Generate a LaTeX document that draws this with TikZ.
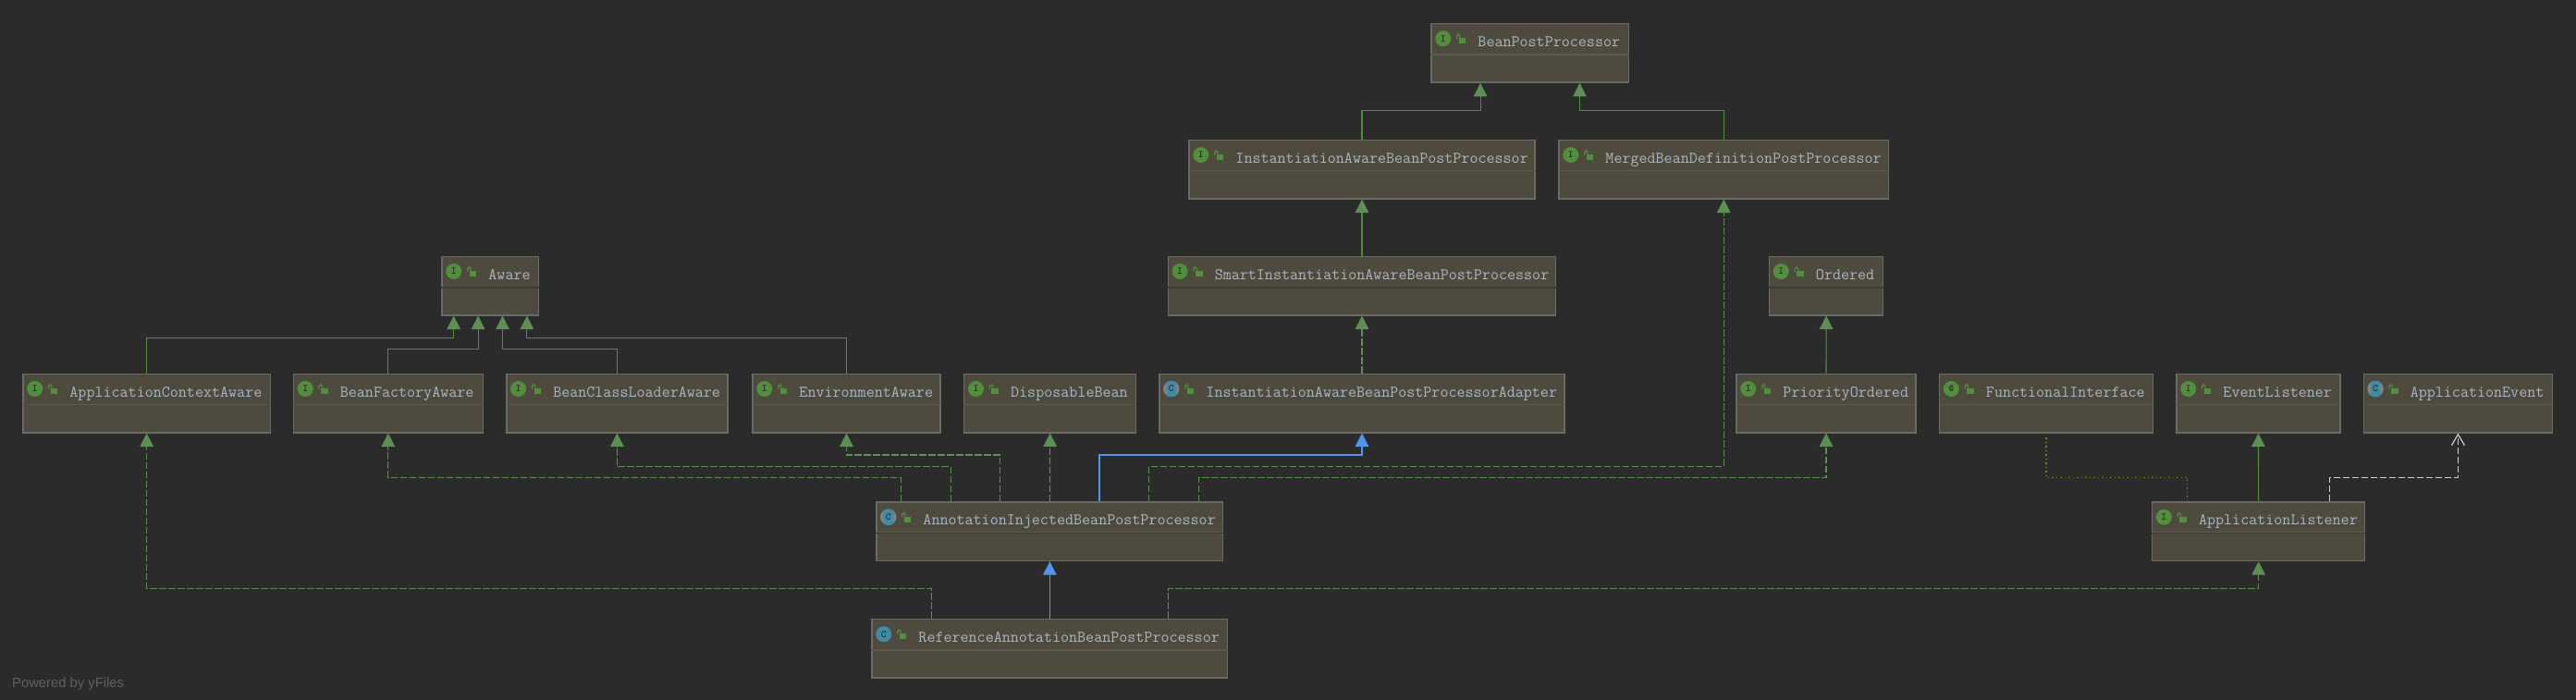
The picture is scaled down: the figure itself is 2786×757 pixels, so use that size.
\documentclass[tikz,border=0pt]{standalone}
\usepackage{fontspec}
\setsansfont{Liberation Sans}
\usetikzlibrary{arrows.meta}
\definecolor{bgcol}{HTML}{2B2B2B}
\definecolor{boxcol}{HTML}{4E4A3E}
\definecolor{bordercol}{HTML}{6B6B66}
\definecolor{dividercol}{HTML}{5A584F}
\definecolor{darkdivcol}{HTML}{3C3B36}
\definecolor{namecol}{HTML}{A9B7C6}
\definecolor{greencol}{HTML}{528F3C}
\definecolor{tipcol}{HTML}{5B9150}
\definecolor{bluecol}{HTML}{4E96EE}
\definecolor{tealcol}{HTML}{3E8CA6}
\definecolor{ringcol}{HTML}{85857F}
\definecolor{dotcol}{HTML}{7A7A1E}
\definecolor{whitecol}{HTML}{CFCFCF}
\definecolor{yfilescol}{HTML}{5F5F5F}
% name, left, top, right
\newcommand{\umlbox}[4]{
\node[classbox,minimum width={#4-#2}] (#1) at ({(#2+#4)/2},{#3+32}) {};
\draw[dividerline] ([yshift=-34]#1.north west) -- ([yshift=-34]#1.north east);
\fill[greencol] ([shift={(30.5,16.3)}]#1.north west) rectangle ([shift={(38,22.3)}]#1.north west);
\draw[greencol,line width=1.2pt] ([shift={(28.4,17)}]#1.north west) -- ([shift={(28.4,14)}]#1.north west) arc (180:0:1.7pt) -- ++(0,2);
}
\newcommand{\umlname}[2]{
\node[classname] (#1name) at ([shift={(51,25.5)}]#1.north west) {#2};
}
\newcommand{\darkdivider}[1]{
\draw[dividerline,draw=darkdivcol] ([yshift=-34.5]#1.north west) -- ([yshift=-34.5]#1.north east);
}
\newcommand{\ifaceicon}[2]{
\node[iconmark,fill=greencol] (#1icon) at ([shift={(13.5,17)}]#1.north west) {#2};
}
\newcommand{\classicon}[1]{
\node[iconmark,fill=tealcol] (#1icon) at ([shift={(13.5,17)}]#1.north west) {C};
}
\newcommand{\abstracticon}[1]{
\fill[ringcol] ([shift={(13.5,17)}]#1.north west) circle (8.7pt);
\node[iconmark,minimum size=0pt,rounded corners=3pt,minimum width=11pt,minimum height=17pt,rectangle,fill=tealcol] (#1icon) at ([shift={(13.5,17)}]#1.north west) {C};
}
\begin{document}
\begin{tikzpicture}[x=1pt,y=-1pt]
\tikzstyle{classbox} = [rectangle,draw=bordercol,fill=boxcol,line width=1.5pt,minimum height=63.5,inner sep=0pt]
\tikzstyle{classname} = [anchor=base west,inner sep=0pt,text=namecol,font=\fontsize{17.55}{20}\selectfont\ttfamily\addfontfeature{FakeBold=0.25}]
\tikzstyle{iconmark} = [circle,inner sep=0pt,minimum size=17,text=bgcol,font=\fontsize{11}{11}\selectfont\ttfamily\bfseries]
\tikzstyle{dividerline} = [draw=dividercol,line width=1.5pt]
\tikzstyle{implsolid} = [draw=greencol,line width=1.1pt,-{Triangle[length=14.5pt,width=14.5pt,color=tipcol]}]
\tikzstyle{impldash} = [implsolid,draw=tipcol,line width=1.2pt,dash pattern=on 7.5pt off 2.5pt]
\tikzstyle{extblue} = [draw=bluecol,line width=1.25pt,-{Triangle[length=14.5pt,width=14.5pt]}]
\tikzstyle{depdash} = [draw=whitecol,line width=1.2pt,dash pattern=on 7.5pt off 2.5pt,-{Straight Barb[length=12pt,width=14pt]}]
\tikzstyle{annodot} = [draw=dotcol,line width=1.1pt,dash pattern=on 1.5pt off 3pt]
\fill[bgcol] (0,0) rectangle (2786,757);
\useasboundingbox (0,0) rectangle (2786,757);

\umlbox{bpp}{1548}{25.3}{1761.5}
\umlbox{iabpp}{1286}{151}{1660}
\umlbox{mbdpp}{1686}{151}{2042.6}
\umlbox{siabpp}{1263.3}{277}{1682.7}
\umlbox{aware}{478}{277}{582.6}
\umlbox{ordered}{1913.5}{277}{2036.7}
\umlbox{acaware}{25}{404}{292.4}
\umlbox{bfaware}{317.4}{404}{522.3}
\umlbox{bclaware}{547.8}{404}{787}
\umlbox{envaware}{814}{404}{1017}
\umlbox{dispbean}{1042.7}{404}{1228.7}
\umlbox{iabppa}{1254}{404}{1692}
\umlbox{prio}{1878}{404}{2072}
\umlbox{funcif}{2097.5}{404}{2328.5}
\umlbox{evlistener}{2354}{404}{2530.8}
\umlbox{appevent}{2556.3}{404}{2760.5}
\umlbox{aibpp}{948}{542.7}{1322.7}
\umlbox{applistener}{2327.6}{542.7}{2557.7}
\umlbox{rabpp}{943}{669.3}{1327.7}

\darkdivider{siabpp}
\darkdivider{aware}
\darkdivider{ordered}
\darkdivider{aibpp}
\darkdivider{applistener}

\ifaceicon{bpp}{I}
\ifaceicon{iabpp}{I}
\ifaceicon{mbdpp}{I}
\ifaceicon{siabpp}{I}
\ifaceicon{aware}{I}
\ifaceicon{ordered}{I}
\ifaceicon{acaware}{I}
\ifaceicon{bfaware}{I}
\ifaceicon{bclaware}{I}
\ifaceicon{envaware}{I}
\ifaceicon{dispbean}{I}
\ifaceicon{prio}{I}
\ifaceicon{funcif}{@}
\ifaceicon{evlistener}{I}
\ifaceicon{applistener}{I}
\abstracticon{iabppa}
\abstracticon{appevent}
\abstracticon{aibpp}
\classicon{rabpp}

\umlname{bpp}{BeanPostProcessor}
\umlname{iabpp}{InstantiationAwareBeanPostProcessor}
\umlname{mbdpp}{MergedBeanDefinitionPostProcessor}
\umlname{siabpp}{SmartInstantiationAwareBeanPostProcessor}
\umlname{aware}{Aware}
\umlname{ordered}{Ordered}
\umlname{acaware}{ApplicationContextAware}
\umlname{bfaware}{BeanFactoryAware}
\umlname{bclaware}{BeanClassLoaderAware}
\umlname{envaware}{EnvironmentAware}
\umlname{dispbean}{DisposableBean}
\umlname{iabppa}{InstantiationAwareBeanPostProcessorAdapter}
\umlname{prio}{PriorityOrdered}
\umlname{funcif}{FunctionalInterface}
\umlname{evlistener}{EventListener}
\umlname{appevent}{ApplicationEvent}
\umlname{aibpp}{AnnotationInjectedBeanPostProcessor}
\umlname{applistener}{ApplicationListener}
\umlname{rabpp}{ReferenceAnnotationBeanPostProcessor}

\draw[implsolid] (iabpp.north) -- ++(0,-31) -| ([xshift=-53.7]bpp.south);
\draw[implsolid] (mbdpp.north) -- ++(0,-31) -| ([xshift=53.7]bpp.south);
\draw[implsolid] (siabpp.north) -- (iabpp.south);
\draw[impldash] (iabppa.north) -- (siabpp.south);
\draw[implsolid] (acaware.north) -- ++(0,-38) -| ([xshift=-39.6]aware.south);
\draw[implsolid] (bfaware.north) -- ++(0,-26) -| ([xshift=-13.2]aware.south);
\draw[implsolid] (bclaware.north) -- ++(0,-26) -| ([xshift=13.2]aware.south);
\draw[implsolid] (envaware.north) -- ++(0,-38) -| ([xshift=39.6]aware.south);
\draw[implsolid] (prio.north) -- (ordered.south);
\draw[impldash] ([xshift=-160.8]aibpp.north) -- ++(0,-25.7) -| (bfaware.south);
\draw[impldash] ([xshift=-107.2]aibpp.north) -- ++(0,-37.7) -| (bclaware.south);
\draw[impldash] ([xshift=-53.6]aibpp.north) -- ++(0,-50.2) -| (envaware.south);
\draw[impldash] (aibpp.north) -- (dispbean.south);
\draw[extblue] ([xshift=53.6]aibpp.north) -- ++(0,-50.2) -| (iabppa.south);
\draw[impldash] ([xshift=107.2]aibpp.north) -- ++(0,-37.7) -| (mbdpp.south);
\draw[impldash] ([xshift=160.8]aibpp.north) -- ++(0,-25.7) -| (prio.south);
\draw[extblue] (rabpp.north) -- (aibpp.south);
\draw[impldash] ([xshift=-128]rabpp.north) -- ++(0,-32.3) -| (acaware.south);
\draw[impldash] ([xshift=128]rabpp.north) -- ++(0,-32.3) -| (applistener.south);
\draw[implsolid] (applistener.north) -- (evlistener.south);
\draw[annodot] ([xshift=-76.8]applistener.north) -- ++(0,-25.7) -| ([yshift=-3]funcif.south);
\draw[depdash] ([xshift=76.8]applistener.north) -- ++(0,-25.7) -| (appevent.south);

\node[anchor=base west,inner sep=0pt,text=yfilescol,font=\fontsize{14.8}{16}\selectfont\sffamily] (yfiles) at (13,743) {Powered by yFiles};
\end{tikzpicture}
\end{document}
